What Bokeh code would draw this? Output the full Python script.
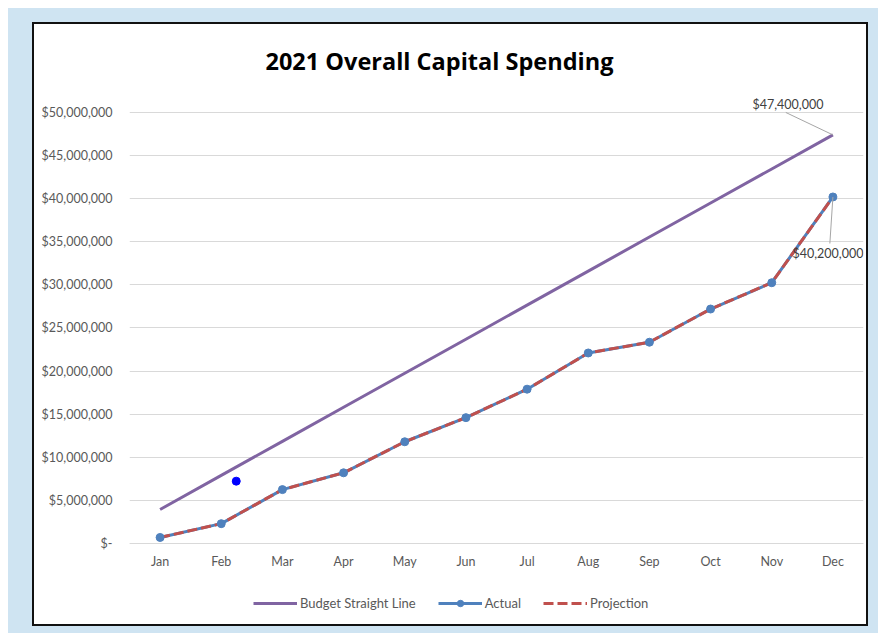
from bokeh.plotting import figure
from bokeh.models import (ColumnDataSource, FactorRange, Range1d, FixedTicker,
                          NumeralTickFormatter, Legend, LegendItem, LabelSet)
from bokeh.transform import dodge
from bokeh.layouts import column
from bokeh.core.properties import value
from bokeh.embed import file_html
from bokeh.resources import INLINE

# ---------------- data ----------------
months = ["Jan", "Feb", "Mar", "Apr", "May", "Jun", "Jul", "Aug", "Sep", "Oct", "Nov", "Dec"]
budget = [3950000, 7900000, 11850000, 15800000, 19750000, 23700000,
          27650000, 31600000, 35550000, 39500000, 43450000, 47400000]
actual = [700000, 2300000, 6250000, 8200000, 11800000, 14600000,
          17900000, 22100000, 23350000, 27200000, 30250000, 40200000]
projection = [700000, 2300000, 6250000, 8200000, 11800000, 14600000,
              17900000, 22100000, 23350000, 27200000, 30250000, 40200000]
stray_month = ["Feb"]
stray_value = [7230000]
y_ticks = [0, 5000000, 10000000, 15000000, 20000000, 25000000,
           30000000, 35000000, 40000000, 45000000, 50000000]
title_text = "2021 Overall Capital Spending"

FONT = "Lato"
GRAY_TXT = "#595959"
GRID = "#d9d9d9"

src = ColumnDataSource(dict(x=months, budget=budget, actual=actual, projection=projection))

# the frame is stretched below zero so the legend (drawn inside the frame) stays visible;
# the category axis is pinned at zero
p = figure(width=836, height=604,
           x_range=FactorRange(factors=months, range_padding=0),
           y_range=Range1d(-8470000, 52550000),
           output_backend="svg", toolbar_location=None,
           min_border_left=95, min_border_right=7, min_border_top=66, min_border_bottom=12,
           background_fill_color=None, border_fill_color=None,
           outline_line_color=None)

# title
p.title.text = title_text
p.title.align = "left"
p.title.offset = 136
p.title.standoff = 27
p.title.text_font = "Open Sans"
p.title.text_font_size = "23.5px"
p.title.text_font_style = "bold"
p.title.text_color = "#000000"

# axes
p.xgrid.grid_line_color = None
p.ygrid.grid_line_color = GRID
p.ygrid.grid_line_width = 1
p.yaxis.ticker = FixedTicker(ticks=y_ticks)
p.yaxis.formatter = NumeralTickFormatter(format="$0,0")
p.yaxis.major_label_overrides = {0: "$-"}
p.yaxis.axis_line_color = None
p.yaxis.major_tick_line_color = None
p.yaxis.minor_tick_line_color = None
p.yaxis.major_tick_out = 0
p.yaxis.major_tick_in = 0
p.yaxis.major_label_standoff = 17
p.xaxis.fixed_location = 0
p.xaxis.axis_line_color = GRID
p.xaxis.major_tick_line_color = None
p.xaxis.minor_tick_line_color = None
p.xaxis.major_tick_out = 0
p.xaxis.major_tick_in = 0
p.xaxis.major_label_standoff = 11
for ax in (p.xaxis, p.yaxis):
    ax.major_label_text_font = FONT
    ax.major_label_text_font_size = "12.5px"
    ax.major_label_text_color = GRAY_TXT

# series
r_budget = p.line("x", "budget", source=src, line_color="#8064a2", line_width=3)
r_act_line = p.line("x", "actual", source=src, line_color="#4f81bd", line_width=3)
r_proj = p.line("x", "projection", source=src, line_color="#c0504d", line_width=3,
                line_dash="10 4")
r_act_pts = p.scatter("x", "actual", source=src, size=8, marker="circle",
                      fill_color="#4f81bd", line_color="#4f81bd")

stray_src = ColumnDataSource(dict(x=stray_month, y=stray_value))
p.scatter(dodge("x", 0.245, range=p.x_range), "y", source=stray_src, size=8,
          marker="circle", fill_color="#0000ff", line_color="#0000ff")

# data labels with leader lines
lead_src1 = ColumnDataSource(dict(x=[months[-1]], y0=[budget[-1]], y1=[50000000]))
p.segment(x0="x", y0="y0", x1=dodge("x", -0.77, range=p.x_range), y1="y1",
          source=lead_src1, line_color="#a6a6a6", line_width=1)
lead_src2 = ColumnDataSource(dict(x=[months[-1]], y0=[actual[-1]], y1=[34800000]))
p.segment(x0="x", y0="y0", x1=dodge("x", -0.05, range=p.x_range), y1="y1",
          source=lead_src2, line_color="#a6a6a6", line_width=1)

lbl_src = ColumnDataSource(dict(
    x=[months[-1], months[-1]],
    y=[budget[-1], actual[-1]],
    text=["${:,.0f}".format(budget[-1]), "${:,.0f}".format(actual[-1])],
    xo=[-45, -5], yo=[30, -57]))
p.add_layout(LabelSet(x="x", y="y", text="text", x_offset="xo", y_offset="yo",
                      source=lbl_src, text_align="center", text_baseline="middle",
                      text_font=value(FONT), text_font_size="12.5px",
                      text_color="#404040"))

# legend
legend = Legend(items=[LegendItem(label="Budget Straight Line", renderers=[r_budget]),
                       LegendItem(label="Actual", renderers=[r_act_line, r_act_pts]),
                       LegendItem(label="Projection", renderers=[r_proj])],
                orientation="horizontal", location=(124, 5), padding=0, margin=0,
                spacing=22, glyph_width=44, glyph_height=16, label_height=16,
                label_standoff=3, label_text_font=FONT, label_text_font_size="13px",
                label_text_color=GRAY_TXT, border_line_color=None,
                background_fill_alpha=0)
p.add_layout(legend)

p.styles = {"border": "2px solid #111111", "background-color": "#ffffff"}
layout = column(p, styles={"background-color": "#cfe4f2", "padding": "14px 10px 7px 24px",
                           "margin": "8px 0 0 8px"})

open("out.html", "w").write(file_html(layout, INLINE))
